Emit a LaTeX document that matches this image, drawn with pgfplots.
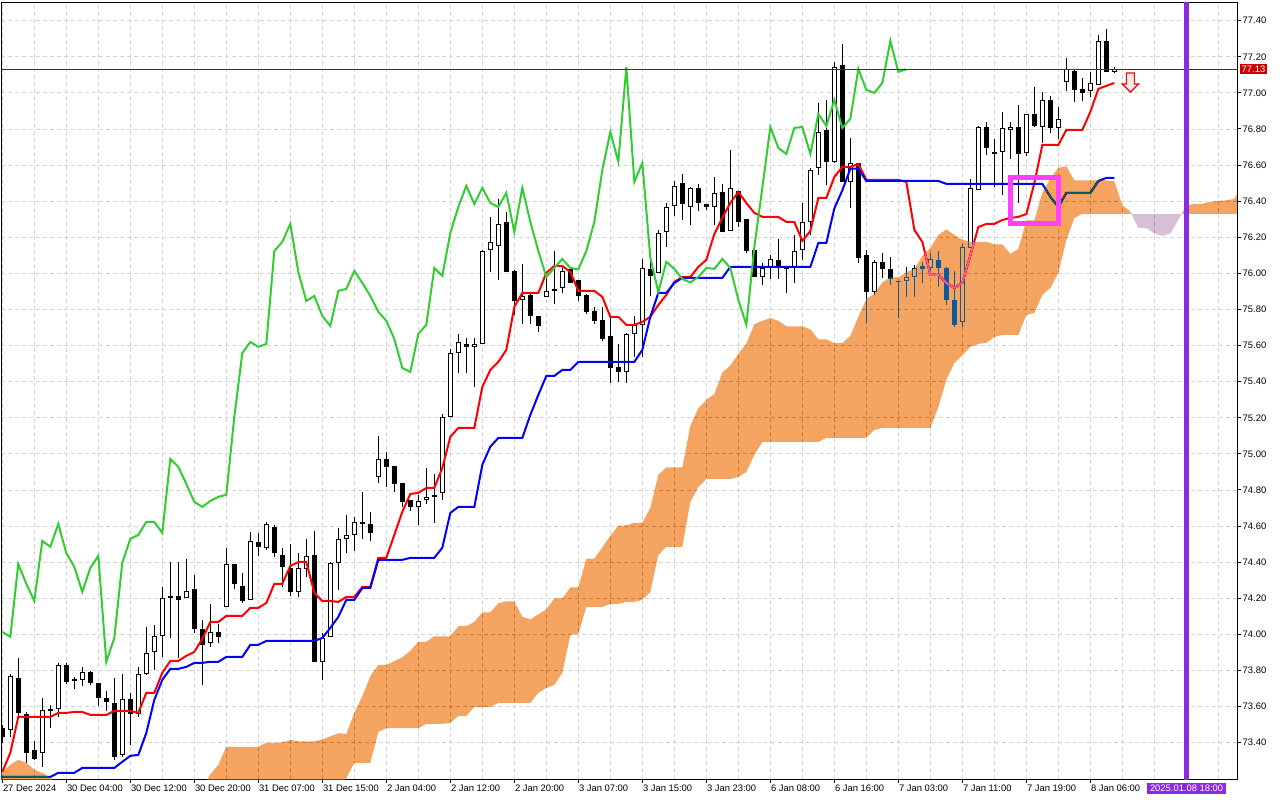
\documentclass[border=0pt]{standalone}
\usepackage{fontspec}
\setmainfont{Liberation Sans}
\usepackage{pgfplots}
\pgfplotsset{compat=1.18}
\usepackage{pgfplotstable}

\definecolor{cloudx}{RGB}{11,91,159}
\definecolor{thistlex}{RGB}{39,64,39}
\definecolor{gridc}{RGB}{212,212,212}
\definecolor{chik}{RGB}{50,205,50}
\definecolor{pline}{RGB}{170,0,0}
\definecolor{vline}{RGB}{138,43,226}
\definecolor{boxc}{RGB}{255,64,255}
\definecolor{lblred}{RGB}{204,0,0}
\definecolor{arrowfill}{RGB}{255,232,236}
\newcommand\lblfont{\fontsize{9.4bp}{11bp}\selectfont}

\pgfdeclareplotmark{sellarrow}{%
 \pgfpathmoveto{\pgfpoint{-4bp}{9bp}}%
 \pgfpathlineto{\pgfpoint{4bp}{9bp}}%
 \pgfpathlineto{\pgfpoint{4bp}{-2bp}}%
 \pgfpathlineto{\pgfpoint{8bp}{-2bp}}%
 \pgfpathlineto{\pgfpoint{0bp}{-10bp}}%
 \pgfpathlineto{\pgfpoint{-8bp}{-2bp}}%
 \pgfpathlineto{\pgfpoint{-4bp}{-2bp}}%
 \pgfpathclose
 \pgfusepathqfillstroke}

\pgfplotstableread{
i o h l c
0 73.481 73.500 73.400 73.432
1 73.471 73.781 73.432 73.770
2 73.759 73.870 73.543 73.565
3 73.559 73.570 73.288 73.343
4 73.360 73.410 73.305 73.310
5 73.343 73.648 73.266 73.582
6 73.576 73.609 73.482 73.587
7 73.587 73.842 73.543 73.831
8 73.831 73.842 73.726 73.737
9 73.750 73.764 73.698 73.744
10 73.748 73.820 73.715 73.792
11 73.792 73.798 73.720 73.731
12 73.731 73.733 73.604 73.648
13 73.648 73.687 73.576 73.626
14 73.620 73.759 73.305 73.321
15 73.332 73.781 73.321 73.643
16 73.643 73.676 73.388 73.559
17 73.559 73.820 73.543 73.781
18 73.781 74.041 73.776 73.897
19 73.903 74.052 73.803 73.992
20 73.992 74.263 73.875 74.202
21 74.202 74.402 73.980 74.210
22 74.214 74.402 73.870 74.191
23 74.202 74.418 74.200 74.241
24 74.252 74.330 74.008 74.030
25 74.030 74.080 73.720 73.942
26 73.953 74.169 73.931 74.014
27 74.014 74.058 73.953 73.986
28 74.152 74.479 74.150 74.390
29 74.390 74.392 74.252 74.280
30 74.269 74.341 74.174 74.185
31 74.191 74.568 74.189 74.518
32 74.512 74.562 74.435 74.485
33 74.479 74.623 74.468 74.612
34 74.595 74.607 74.429 74.451
35 74.440 74.479 74.263 74.374
36 74.368 74.501 74.213 74.235
37 74.235 74.451 74.208 74.368
38 74.363 74.529 74.318 74.435
39 74.440 74.573 73.846 73.848
40 73.848 74.008 73.748 73.980
41 73.986 74.402 73.984 74.396
42 74.396 74.590 74.246 74.529
43 74.529 74.662 74.451 74.551
44 74.551 74.651 74.462 74.623
45 74.612 74.789 74.529 74.623
46 74.612 74.679 74.518 74.562
47 74.872 75.100 74.839 74.972
48 74.972 75.011 74.817 74.928
49 74.933 74.935 74.789 74.834
50 74.839 74.841 74.706 74.734
51 74.745 74.747 74.684 74.706
52 74.706 74.773 74.607 74.739
53 74.745 74.922 74.723 74.762
54 74.762 74.889 74.618 74.773
55 74.784 75.221 74.745 75.205
56 75.205 75.581 75.203 75.559
57 75.559 75.665 75.449 75.620
58 75.609 75.643 75.449 75.593
59 75.593 75.643 75.371 75.609
60 75.609 76.130 75.607 76.124
61 76.130 76.313 76.008 76.174
62 76.152 76.413 75.964 76.274
63 76.285 76.341 76.006 76.008
64 76.014 76.016 75.770 75.847
65 75.853 76.052 75.720 75.875
66 75.881 75.883 75.720 75.764
67 75.764 75.766 75.676 75.709
68 75.870 75.975 75.868 75.903
69 75.903 76.124 75.831 75.914
70 75.919 76.036 75.892 76.014
71 76.025 76.036 75.945 75.947
72 75.964 75.966 75.847 75.875
73 75.881 75.883 75.776 75.787
74 75.792 75.814 75.720 75.737
75 75.742 75.814 75.626 75.637
76 75.654 75.753 75.393 75.476
77 75.482 75.609 75.399 75.454
78 75.454 75.670 75.393 75.665
79 75.665 75.764 75.537 75.715
80 75.715 76.080 75.537 76.030
81 76.025 76.063 75.875 75.986
82 76.003 76.241 76.001 76.224
83 76.230 76.390 76.147 76.368
84 76.374 76.512 76.318 76.485
85 76.501 76.551 76.296 76.385
86 76.368 76.479 76.269 76.474
87 76.474 76.496 76.346 76.390
88 76.385 76.387 76.352 76.368
89 76.368 76.534 76.269 76.446
90 76.451 76.496 76.228 76.230
91 76.235 76.684 76.233 76.474
92 76.457 76.459 76.257 76.285
93 76.302 76.304 76.113 76.124
94 76.130 76.132 75.978 75.980
95 75.980 76.058 75.936 76.030
96 76.030 76.102 75.969 76.080
97 76.075 76.191 75.969 76.030
98 76.030 76.032 75.892 76.022
99 76.030 76.213 75.947 76.124
100 76.130 76.390 76.075 76.285
101 76.285 76.584 76.213 76.573
102 76.584 76.944 76.546 76.784
103 76.795 76.961 76.490 76.618
104 76.618 77.172 76.612 77.144
105 77.155 77.271 76.505 76.507
106 76.507 76.751 76.363 76.612
107 76.612 76.614 76.058 76.086
108 76.102 76.130 75.726 75.897
109 75.897 76.075 75.881 76.064
110 76.064 76.113 75.975 76.025
111 76.025 76.091 75.936 75.969
112 75.956 75.958 75.753 75.950
113 75.958 76.036 75.870 75.980
114 75.980 76.047 75.870 76.030
115 76.041 76.063 75.947 76.025
116 76.030 76.113 76.003 76.080
117 76.075 76.124 75.925 76.030
118 76.030 76.036 75.825 75.853
119 75.853 76.014 75.703 75.715
120 75.731 76.163 75.703 76.147
121 76.141 76.523 76.139 76.474
122 76.462 76.817 76.460 76.811
123 76.811 76.839 76.656 76.695
124 76.673 76.745 76.479 76.662
125 76.673 76.895 76.435 76.806
126 76.795 76.839 76.634 76.811
127 76.811 76.933 76.390 76.662
128 76.667 76.885 76.651 76.883
129 76.883 77.033 76.811 76.817
130 76.811 77.005 76.723 76.961
131 76.961 76.983 76.778 76.806
132 76.806 76.922 76.745 76.856
133 77.061 77.194 77.011 77.133
134 77.122 77.127 76.950 77.016
135 77.022 77.083 76.955 77.000
136 77.011 77.116 76.978 77.055
137 77.044 77.321 77.042 77.288
138 77.288 77.354 77.114 77.116
139 77.116 77.144 77.110 77.131
}\candles

\pgfplotstableread{
i y
0 73.238
1 73.343
2 73.543
6 73.543
7 73.565
8 73.565
9 73.57
10 73.57
11 73.554
13 73.554
14 73.576
16 73.576
17 73.565
18 73.676
19 73.676
20 73.787
21 73.853
22 73.853
23 73.881
24 73.903
25 73.975
26 74.069
27 74.069
28 74.102
30 74.102
31 74.147
32 74.147
33 74.174
34 74.28
35 74.28
36 74.379
37 74.401
38 74.401
39 74.23
40 74.185
41 74.185
42 74.18
43 74.207
44 74.207
45 74.263
46 74.263
47 74.424
48 74.424
49 74.551
50 74.679
51 74.778
52 74.784
53 74.811
54 74.811
55 74.922
56 75.094
57 75.144
59 75.144
60 75.371
61 75.465
62 75.51
63 75.576
64 75.814
65 75.892
67 75.892
68 76.003
69 76.041
70 76.041
71 76.008
72 75.903
74 75.903
75 75.87
76 75.759
77 75.759
78 75.715
79 75.715
80 75.731
81 75.759
82 75.825
83 75.881
84 75.953
85 75.98
86 75.98
87 76.036
88 76.075
89 76.219
90 76.307
91 76.39
92 76.451
93 76.39
94 76.335
95 76.313
97 76.313
98 76.285
99 76.285
100 76.18
101 76.235
102 76.418
103 76.418
104 76.534
105 76.59
106 76.59
107 76.606
108 76.518
112 76.518
113 76.507
114 76.241
115 76.174
116 75.992
117 75.992
118 75.947
119 75.919
120 75.947
121 76.10
122 76.257
123 76.274
124 76.274
125 76.296
126 76.307
127 76.313
128 76.329
129 76.501
130 76.712
132 76.712
133 76.795
135 76.795
136 76.895
137 77.022
138 77.039
139 77.055
}\tenkan

\pgfplotstableread{
i y
0 73.21
6 73.21
7 73.233
9 73.233
10 73.26
14 73.26
15 73.294
16 73.327
17 73.332
18 73.454
19 73.637
20 73.748
21 73.809
22 73.809
23 73.82
24 73.842
25 73.842
26 73.848
27 73.848
28 73.875
30 73.875
31 73.942
32 73.942
33 73.964
39 73.964
40 73.98
41 74.036
42 74.097
43 74.191
44 74.191
45 74.257
46 74.257
47 74.413
50 74.413
51 74.424
54 74.424
55 74.48
56 74.673
57 74.706
59 74.706
60 74.939
61 75.04
62 75.088
65 75.088
66 75.216
67 75.327
68 75.432
69 75.432
70 75.465
71 75.465
72 75.51
79 75.51
80 75.576
81 75.759
82 75.892
83 75.892
84 75.947
85 75.975
90 75.975
91 76.036
101 76.036
102 76.169
103 76.169
104 76.36
105 76.46
106 76.58
107 76.58
108 76.512
117 76.512
118 76.496
130 76.496
131 76.424
132 76.368
133 76.446
136 76.446
137 76.512
138 76.529
139 76.529
}\kijun

\pgfplotstableread{
i y
0 74.014
1 73.986
2 74.390
3 74.280
4 74.185
5 74.518
6 74.485
7 74.612
8 74.451
9 74.374
10 74.235
11 74.368
12 74.435
13 73.848
14 73.980
15 74.396
16 74.529
17 74.551
18 74.623
19 74.623
20 74.562
21 74.972
22 74.928
23 74.834
24 74.734
25 74.706
26 74.739
27 74.762
28 74.773
29 75.205
30 75.559
31 75.620
32 75.593
33 75.609
34 76.124
35 76.174
36 76.274
37 76.008
38 75.847
39 75.875
40 75.764
41 75.709
42 75.903
43 75.914
44 76.014
45 75.947
46 75.875
47 75.787
48 75.737
49 75.637
50 75.476
51 75.454
52 75.665
53 75.715
54 76.030
55 75.986
56 76.224
57 76.368
58 76.485
59 76.385
60 76.474
61 76.390
62 76.368
63 76.446
64 76.230
65 76.474
66 76.285
67 76.124
68 75.980
69 76.030
70 76.080
71 76.030
72 76.022
73 76.124
74 76.285
75 76.573
76 76.784
77 76.618
78 77.144
79 76.507
80 76.612
81 76.086
82 75.897
83 76.064
84 76.025
85 75.969
86 75.950
87 75.980
88 76.030
89 76.025
90 76.080
91 76.030
92 75.853
93 75.715
94 76.147
95 76.474
96 76.811
97 76.695
98 76.662
99 76.806
100 76.811
101 76.662
102 76.883
103 76.817
104 76.961
105 76.806
106 76.856
107 77.133
108 77.016
109 77.000
110 77.055
111 77.288
112 77.116
113 77.131
}\chikou

\begin{document}
\begin{tikzpicture}
\fill[white] (-1bp,-20.7bp) rectangle (1279bp,779.3bp);
\path[use as bounding box] (-1bp,-20.7bp) rectangle (1279bp,779.3bp);
\begin{axis}[
  at={(0,0)}, anchor=south west,
  scale only axis, width=1236bp, height=776.6bp,
  xmin=-0.1625, xmax=154.33, ymin=73.197, ymax=77.4997,
  axis background/.style={fill=white},
  axis line style={black, line width=1bp},
  tick style={black, line width=1bp},
  tick align=outside, major tick length=4bp, minor tick length=0pt,
  xtick pos=bottom, ytick pos=right, yticklabel pos=right,
  xtick={0,8,16,24,32,40,48,56,64,72,80,88,96,104,112,120,128,136},
  minor xtick={4,12,20,28,36,44,52,60,68,76,84,92,100,108,116,124,132,140,144,148,152},
  xticklabels={27 Dec 2024,30 Dec 04:00,30 Dec 12:00,30 Dec 20:00,31 Dec 07:00,31 Dec 15:00,2 Jan 04:00,2 Jan 12:00,2 Jan 20:00,3 Jan 07:00,3 Jan 15:00,3 Jan 23:00,6 Jan 08:00,6 Jan 16:00,7 Jan 03:00,7 Jan 11:00,7 Jan 19:00,8 Jan 06:00},
  ytick={73.4,73.6,73.8,74.0,74.2,74.4,74.6,74.8,75.0,75.2,75.4,75.6,75.8,76.0,76.2,76.4,76.6,76.8,77.0,77.2,77.4},
  /pgf/number format/assume math mode=true,
  /pgf/number format/fixed,
  /pgf/number format/fixed zerofill,
  /pgf/number format/precision=2,
  ticklabel style={font=\lblfont, text=black},
  xticklabel style={anchor=north west, inner sep=0pt, xshift=0.5bp, yshift=-1.5bp},
  yticklabel style={anchor=west, inner sep=0pt, xshift=1.5bp},
  grid=both,
  major grid style={gridc, line width=0.8bp, dash pattern=on 4bp off 3bp},
  minor grid style={gridc, line width=0.8bp, dash pattern=on 4bp off 3bp},
]
% wicks
\addplot[forget plot, draw=none, mark=none,
  error bars/.cd, y dir=plus, y explicit, error mark=none,
  error bar style={draw=black, line width=1bp}]
  table[x=i, y=l, y error expr=\thisrow{h}-\thisrow{l}] {\candles};
% bodies
\addplot[forget plot, draw=none, mark=none,
  error bars/.cd, y dir=plus, y explicit, error mark=none,
  error bar style={draw=black, line width=5.6bp, line cap=butt}]
  table[x=i, y expr={min(\thisrow{o},\thisrow{c})}, y error expr={abs(\thisrow{c}-\thisrow{o})}] {\candles};
% hollow bullish bodies
\addplot[forget plot, draw=none, mark=none,
  restrict expr to domain={\thisrow{c}-\thisrow{o}}{0.0125:100},
  error bars/.cd, y dir=plus, y explicit, error mark=none,
  error bar style={draw=white, line width=3.6bp, line cap=butt}]
  table[x=i, y expr=\thisrow{o}+0.0056, y error expr=\thisrow{c}-\thisrow{o}-0.0112] {\candles};
% Tenkan, Kijun, Chikou
\addplot[red, line width=2bp, mark=none] table[x=i, y=y] {\tenkan};
\addplot[blue, line width=2bp, mark=none] table[x=i, y=y] {\kijun};
\addplot[chik, line width=2bp, mark=none] table[x=i, y=y] {\chikou};
% cloud (drawn with difference blending, like the terminal's XOR fill)
\addplot[fill=cloudx, draw=none, blend mode=difference] table[x=x, y=y] {
x y
-1 73.22
0 73.238
1 73.277
2 73.305
3 73.288
4 73.25
5 73.232
6 73.205
7 73.17
8 73.15
25 73.15
26 73.224
27 73.277
28 73.377
32 73.377
33 73.399
34 73.399
35 73.402
36 73.415
37 73.407
39 73.407
40 73.418
41 73.435
42 73.452
43 73.449
44 73.565
45 73.657
46 73.768
47 73.831
48 73.831
49 73.851
50 73.873
51 73.909
52 73.959
53 73.959
54 73.989
56 73.989
57 74.045
58 74.045
59 74.069
60 74.122
61 74.122
62 74.172
63 74.183
64 74.183
65 74.097
66 74.083
67 74.111
68 74.139
69 74.199
70 74.199
71 74.26
72 74.26
73 74.419
74 74.419
75 74.482
76 74.546
77 74.601
78 74.604
79 74.618
80 74.618
81 74.701
82 74.884
83 74.925
85 74.925
86 75.155
87 75.253
88 75.299
89 75.332
90 75.451
91 75.49
92 75.554
93 75.61
94 75.718
95 75.737
96 75.753
97 75.737
98 75.707
100 75.707
101 75.69
102 75.635
103 75.635
104 75.613
105 75.613
106 75.654
107 75.759
108 75.859
109 75.887
110 75.95
111 75.978
112 75.978
113 76.006
114 76.025
115 76.097
116 76.141
117 76.213
118 76.244
119 76.213
120 76.186
121 76.175
123 76.175
124 76.161
125 76.161
126 76.108
127 76.136
128 76.294
129 76.294
130 76.447
131 76.525
132 76.585
133 76.593
134 76.515
138 76.515
139 76.51
140 76.377
141 76.343
141.14 76.33
135 76.33
134 76.307
133 76.185
132 76.003
131 75.92
130 75.881
129 75.781
128 75.77
127 75.659
125 75.659
124 75.648
123 75.615
122 75.609
121 75.593
120 75.548
119 75.504
118 75.41
117 75.26
116 75.144
110 75.144
109 75.133
108 75.089
103 75.089
102 75.066
95 75.066
94 74.994
93 74.90
92 74.872
91 74.861
88 74.861
87 74.817
86 74.734
85 74.485
83 74.485
82 74.44
81 74.235
80 74.191
79 74.18
78 74.18
77 74.169
76 74.169
75 74.152
73 74.152
72 74.003
71 73.997
70 73.787
69 73.72
68 73.703
67 73.676
66 73.62
62 73.62
61 73.598
59 73.598
58 73.548
57 73.548
56 73.51
55 73.504
53 73.504
52 73.48
48 73.48
47 73.46
46 73.288
44 73.288
43 73.205
42 73.10
-1 73.10
} -- cycle;
\addplot[fill=thistlex, draw=none, blend mode=difference] table[x=x, y=y] {
x y
141.14 76.33
147.41 76.33
147 76.298
146 76.2215
145 76.2075
144 76.2215
143 76.252
142 76.252
} -- cycle;
\addplot[fill=cloudx, draw=none, blend mode=difference] table[x=x, y=y] {
x y
147.41 76.33
148 76.3765
149 76.385
150 76.385
151 76.396
152 76.4015
153 76.4045
154 76.4125
155 76.4985
155 76.33
} -- cycle;
% price line, time marker, highlight box, signal arrow
\addplot[pline, line width=1bp, mark=none] coordinates {(-1,77.132) (156,77.132)};
\addplot[vline, line width=4.6bp, mark=none] coordinates {(148.03,73.0) (148.03,77.6)};
\addplot[boxc, line width=5bp, mark=none, line join=miter] coordinates {(126.06,76.531) (131.99,76.531) (131.99,76.2765) (126.06,76.2765)} -- cycle;
\addplot[only marks, mark=sellarrow, mark options={draw=red, fill=arrowfill, line width=1.2bp}] coordinates {(141.0,77.06)};
\coordinate (pl) at (axis cs:154.33,77.132);
\coordinate (tm) at (axis cs:148.03,73.197);
\end{axis}
\node[fill=lblred, text=white, font=\lblfont, inner xsep=1.5bp, inner ysep=2bp, anchor=west] at ([xshift=3bp]pl) {77.13};
\node[fill=vline, text=white, font=\lblfont, inner xsep=3bp, inner ysep=2bp, anchor=north] at ([yshift=-3.5bp]tm) {2025.01.08 18:00};
\end{tikzpicture}
\end{document}
